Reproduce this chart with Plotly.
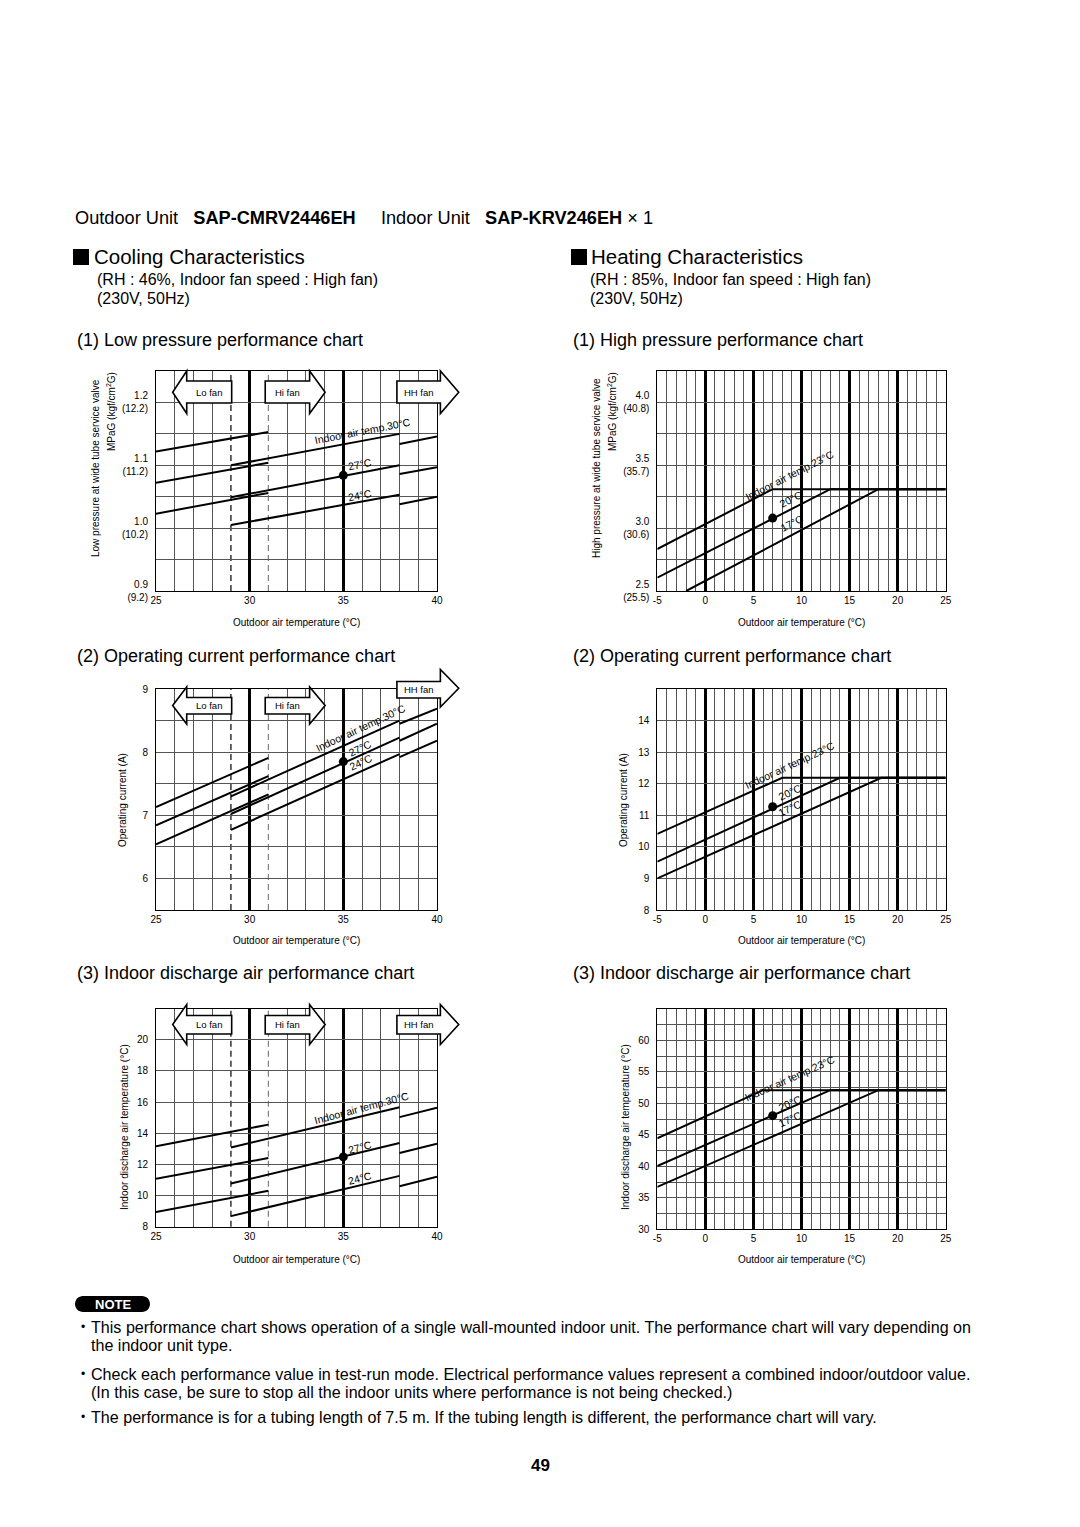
import plotly.graph_objects as go

W, H = 1080, 1527

# ---------------- data ----------------
# Cooling: x-segments (Lo fan / Hi fan / HH fan regions)
cool_x_lo = [25, 31]
cool_x_main = [29, 38]
cool_x_hh = [38, 40]

# (1) Cooling low pressure (MPaG)
lp30_lo = [1.122, 1.153]; lp30_main = [1.100, 1.150]; lp30_hh = [1.134, 1.146]
lp27_lo = [1.072, 1.104]; lp27_main = [1.049, 1.100]; lp27_hh = [1.086, 1.097]
lp24_lo = [1.023, 1.056]; lp24_main = [1.005, 1.053]; lp24_hh = [1.038, 1.050]
lp_point = [35, 1.084]

# (2) Cooling operating current (A)
cc30_lo = [7.13, 7.91]; cc30_main = [7.30, 8.50]; cc30_hh = [8.45, 8.69]
cc27_lo = [6.84, 7.62]; cc27_main = [7.02, 8.23]; cc27_hh = [8.18, 8.45]
cc24_lo = [6.54, 7.33]; cc24_main = [6.77, 7.97]; cc24_hh = [7.92, 8.18]
cc_point = [35, 7.85]

# (3) Cooling indoor discharge air temperature (°C)
cd30_lo = [13.16, 14.55]; cd30_main = [13.08, 15.67]; cd30_hh = [15.03, 15.63]
cd27_lo = [11.07, 12.41]; cd27_main = [10.77, 13.37]; cd27_hh = [12.73, 13.33]
cd24_lo = [8.94, 10.30]; cd24_main = [8.68, 11.26]; cd24_hh = [10.60, 11.20]
cd_point = [35, 12.48]

# Heating (1) high pressure (MPaG)
hp23_x = [-5, 7, 25]; hp23_y = [2.834, 3.31, 3.31]
hp20_x = [-5, 13, 25]; hp20_y = [2.606, 3.31, 3.31]
hp17_x = [-2, 18, 25]; hp17_y = [2.50, 3.31, 3.31]
hp_point = [7, 3.08]

# Heating (2) operating current (A)
hc23_x = [-5, 8, 25]; hc23_y = [10.41, 12.19, 12.19]
hc20_x = [-5, 14, 25]; hc20_y = [9.53, 12.19, 12.19]
hc17_x = [-5, 18.3, 25]; hc17_y = [9.00, 12.19, 12.19]
hc_point = [7, 11.27]

# Heating (3) indoor discharge air temperature (°C)
hd23_x = [-5, 6, 25]; hd23_y = [44.47, 52.1, 52.1]
hd20_x = [-5, 13, 25]; hd20_y = [40.05, 52.1, 52.1]
hd17_x = [-5, 18, 25]; hd17_y = [36.74, 52.1, 52.1]
hd_point = [7, 48.05]

# tick labels
cool_xticks = [25, 30, 35, 40]
cool_xminor = [26, 27, 28, 32, 33, 34, 36, 37, 38, 39]
cool_xdashed = [29, 31]
heat_xticks = [-5, 0, 5, 10, 15, 20, 25]
lp_tickvals = [0.9, 1.0, 1.1, 1.2]
lp_ticktext = ["0.9<br>(9.2)", "1.0<br>(10.2)", "1.1<br>(11.2)", "1.2<br>(12.2)"]
hp_tickvals = [2.5, 3.0, 3.5, 4.0]
hp_ticktext = ["2.5<br>(25.5)", "3.0<br>(30.6)", "3.5<br>(35.7)", "4.0<br>(40.8)"]
cc_tickvals = [6, 7, 8, 9]
hc_tickvals = [8, 9, 10, 11, 12, 13, 14]
cd_tickvals = [8, 10, 12, 14, 16, 18, 20]
hd_tickvals = [30, 35, 40, 45, 50, 55, 60]

# fan arrow extents along x (°C)
lo_fan_x = [25.89, 26.64, 29.04]   # tip, head base, body end
hi_fan_x = [30.83, 33.2, 34.03]    # body start, head base, tip
hh_fan_x = [37.86, 40.18, 41.16]

# ---------------- styling ----------------
SMALL = "Liberation Sans, Arial, Helvetica, sans-serif"
TEXT = "Liberation Sans, Arial, Helvetica, sans-serif"
THIN = "#555555"

fig = go.Figure()


def dom_x(l, r):
    return [l / W, r / W]


def dom_y(t, b):
    return [1 - b / H, 1 - t / H]


panel_defs = [
    # n, px left/right, py top/bottom, xrange, yrange, tickvals, ticktext, y minor dtick
    (1, (156, 437), (371, 591), [25, 40], [0.9, 1.25], lp_tickvals, lp_ticktext, 0.05),
    (2, (657.3, 945.7), (371, 591), [-5, 25], [2.5, 4.25], hp_tickvals, hp_ticktext, 0.25),
    (3, (156, 437), (689, 910), [25, 40], [5.5, 9], cc_tickvals, [str(v) for v in cc_tickvals], 0.5),
    (4, (657.3, 945.7), (689, 910), [-5, 25], [8, 15], hc_tickvals, [str(v) for v in hc_tickvals], 1),
    (5, (156, 437), (1008.5, 1226.7), [25, 40], [8, 22], cd_tickvals, [str(v) for v in cd_tickvals], 2),
    (6, (657.3, 945.7), (1009, 1229.3), [-5, 25], [30, 65], hd_tickvals, [str(v) for v in hd_tickvals], 2.5),
]

geo = {}
for n, (l, r), (t, b), xr, yr, tv, tt, mdt in panel_defs:
    sfx = "" if n == 1 else str(n)
    geo[n] = dict(l=l, r=r, t=t, b=b, xr=xr, yr=yr)
    cooling = xr[0] == 25
    if cooling:
        xminor = dict(tickmode="array", tickvals=cool_xminor, showgrid=True,
                      gridcolor=THIN, gridwidth=1, ticks="")
        xticks = cool_xticks
    else:
        xminor = dict(tick0=xr[0], dtick=1, showgrid=True, gridcolor=THIN, gridwidth=1, ticks="")
        xticks = heat_xticks
    fig.update_layout(**{
        "xaxis" + sfx: dict(
            domain=dom_x(l, r), range=xr, anchor="y" + sfx, automargin=False,
            tickmode="array", tickvals=xticks, ticktext=[str(v) for v in xticks],
            showgrid=True, gridcolor="black", gridwidth=2.5,
            minor=xminor,
            showline=True, mirror=True, linecolor="black", linewidth=1,
            ticks="", zeroline=False, fixedrange=True,
            tickfont=dict(family=SMALL, size=10, color="black"),
        ),
        "yaxis" + sfx: dict(
            domain=dom_y(t, b), range=yr, anchor="x" + sfx, automargin=False,
            tickmode="array", tickvals=tv, ticktext=tt,
            showgrid=True, gridcolor=THIN, gridwidth=1,
            minor=dict(tick0=yr[0], dtick=mdt, showgrid=True, gridcolor=THIN, gridwidth=1, ticks=""),
            showline=True, mirror=True, linecolor="black", linewidth=1,
            ticks="", zeroline=False, fixedrange=True,
            ticklabelstandoff=5,
            tickfont=dict(family=SMALL, size=10, color="black"),
        ),
    })


def segs(*pairs):
    X, Y = [], []
    for xs, ys in pairs:
        if X:
            X.append(None); Y.append(None)
        X += list(xs); Y += list(ys)
    return X, Y


def add_line(n, X, Y):
    sfx = "" if n == 1 else str(n)
    fig.add_trace(go.Scatter(x=X, y=Y, mode="lines", line=dict(color="black", width=2),
                             xaxis="x" + sfx, yaxis="y" + sfx, hoverinfo="skip"))


def add_point(n, p):
    sfx = "" if n == 1 else str(n)
    fig.add_trace(go.Scatter(x=[p[0]], y=[p[1]], mode="markers",
                             marker=dict(color="black", size=9),
                             xaxis="x" + sfx, yaxis="y" + sfx, hoverinfo="skip"))


# cooling series
for n, series, pt in [
    (1, [(lp30_lo, lp30_main, lp30_hh), (lp27_lo, lp27_main, lp27_hh), (lp24_lo, lp24_main, lp24_hh)], lp_point),
    (3, [(cc30_lo, cc30_main, cc30_hh), (cc27_lo, cc27_main, cc27_hh), (cc24_lo, cc24_main, cc24_hh)], cc_point),
    (5, [(cd30_lo, cd30_main, cd30_hh), (cd27_lo, cd27_main, cd27_hh), (cd24_lo, cd24_main, cd24_hh)], cd_point),
]:
    for lo, main, hh in series:
        X, Y = segs((cool_x_lo, lo), (cool_x_main, main), (cool_x_hh, hh))
        add_line(n, X, Y)
    add_point(n, pt)

# heating series
for n, series, pt in [
    (2, [(hp23_x, hp23_y), (hp20_x, hp20_y), (hp17_x, hp17_y)], hp_point),
    (4, [(hc23_x, hc23_y), (hc20_x, hc20_y), (hc17_x, hc17_y)], hc_point),
    (6, [(hd23_x, hd23_y), (hd20_x, hd20_y), (hd17_x, hd17_y)], hd_point),
]:
    for xs, ys in series:
        add_line(n, xs, ys)
    add_point(n, pt)

shapes = []
annots = []

# dashed boundaries at 29 and 31 for cooling charts
for n in (1, 3, 5):
    sfx = "" if n == 1 else str(n)
    for xv, col in zip(cool_xdashed, ("black", "#808080")):
        shapes.append(dict(type="line", xref="x" + sfx, yref="y" + sfx + " domain",
                           x0=xv, x1=xv, y0=0, y1=1, layer="below",
                           line=dict(color=col, width=1.2, dash="6px,4px")))


def fan_arrow(n, direction, xs, body, head, label):
    g = geo[n]
    sfx = "" if n == 1 else str(n)
    hpx = g["b"] - g["t"]
    fx = lambda v: (v - g["xr"][0]) / (g["xr"][1] - g["xr"][0])
    fy = lambda off: 1 - off / hpx
    bt, bb = fy(body[0]), fy(body[1])
    ht, hb = fy(head[0]), fy(head[1])
    ym = (ht + hb) / 2
    if direction == "left":
        tip, hbase, bend = [fx(v) for v in xs]
        pts = [(bend, bt), (hbase, bt), (hbase, ht), (tip, ym), (hbase, hb), (hbase, bb), (bend, bb)]
        cx = (hbase + bend) / 2
    else:
        bstart, hbase, tip = [fx(v) for v in xs]
        pts = [(bstart, bt), (hbase, bt), (hbase, ht), (tip, ym), (hbase, hb), (hbase, bb), (bstart, bb)]
        cx = (bstart + hbase) / 2
    path = "M " + " L ".join(f"{a:.5f},{b:.5f}" for a, b in pts) + " Z"
    shapes.append(dict(type="path", path=path, xref="x" + sfx + " domain", yref="y" + sfx + " domain",
                       fillcolor="white", line=dict(color="black", width=1.6), layer="above"))
    annots.append(dict(text=label, xref="x" + sfx + " domain", yref="y" + sfx + " domain",
                       x=cx, y=(bt + bb) / 2, xanchor="center", yanchor="middle", showarrow=False,
                       font=dict(family=SMALL, size=9.5, color="black")))


# offsets in px from plot top: body (top,bottom), head (top,bottom)
fan_arrow(1, "left", lo_fan_x, (10, 32), (0, 42.5), "Lo fan")
fan_arrow(1, "right", hi_fan_x, (10, 32), (0, 42.5), "Hi fan")
fan_arrow(1, "right", hh_fan_x, (10, 32), (0, 42.5), "HH fan")
fan_arrow(3, "left", lo_fan_x, (8.5, 25), (-2, 35), "Lo fan")
fan_arrow(3, "right", hi_fan_x, (8.5, 25), (-2, 35), "Hi fan")
fan_arrow(3, "right", hh_fan_x, (-7.5, 9), (-19.5, 18), "HH fan")
fan_arrow(5, "left", lo_fan_x, (7, 25.5), (-4, 36), "Lo fan")
fan_arrow(5, "right", hi_fan_x, (7, 25.5), (-4, 36), "Hi fan")
fan_arrow(5, "right", hh_fan_x, (7, 25.5), (-4, 36), "HH fan")


def curve_label(n, x, y, text, angle):
    sfx = "" if n == 1 else str(n)
    annots.append(dict(text=text, xref="x" + sfx, yref="y" + sfx, x=x, y=y, showarrow=False,
                       xanchor="center", yanchor="middle",
                       textangle=angle, font=dict(family=SMALL, size=10.5, color="black")))


curve_label(1, 36.0, 1.154, "Indoor air temp.30°C", -11)
curve_label(1, 35.9, 1.102, "27°C", -11)
curve_label(1, 35.9, 1.052, "24°C", -11)
curve_label(3, 35.9, 8.38, "Indoor air temp.30°C", -25)
curve_label(3, 35.9, 8.07, "27°C", -25)
curve_label(3, 35.95, 7.84, "24°C", -25)
curve_label(5, 35.95, 15.6, "Indoor air temp.30°C", -15)
curve_label(5, 35.9, 13.1, "27°C", -15)
curve_label(5, 35.9, 11.1, "24°C", -15)
curve_label(2, 8.8, 3.42, "Indoor air temp.23°C", -27)
curve_label(2, 8.9, 3.23, "20°C", -27)
curve_label(2, 9.0, 3.04, "17°C", -27)
curve_label(4, 8.8, 12.59, "Indoor air temp.23°C", -25)
curve_label(4, 8.8, 11.74, "20°C", -25)
curve_label(4, 8.8, 11.23, "17°C", -25)
curve_label(6, 8.8, 54.05, "Indoor air temp.23°C", -24)
curve_label(6, 8.8, 50.1, "20°C", -24)
curve_label(6, 8.8, 47.6, "17°C", -24)


def ptext(x, y, text, size, family=TEXT, xanchor="left", angle=0, color="black"):
    annots.append(dict(text=text, xref="paper", yref="paper", x=x / W, y=1 - y / H,
                       xanchor=xanchor, yanchor="middle", showarrow=False, textangle=angle,
                       font=dict(family=family, size=size, color=color)))


# axis titles
for cx in (296.5, 801.5):
    for cy in (622, 940, 1259):
        ptext(cx, cy, "Outdoor air temperature (°C)", 10, SMALL, "center")
ptext(95, 468, "Low pressure at wide tube service valve", 10, SMALL, "center", -90)
ptext(111, 412, "MPaG (kgf/cm<sup>2</sup>G)", 10, SMALL, "center", -90)
ptext(596, 468, "High pressure at wide tube service valve", 10, SMALL, "center", -90)
ptext(612, 412, "MPaG (kgf/cm<sup>2</sup>G)", 10, SMALL, "center", -90)
ptext(122, 800, "Operating current (A)", 10, SMALL, "center", -90)
ptext(623, 800, "Operating current (A)", 10, SMALL, "center", -90)
ptext(124, 1127, "Indoor discharge air temperature (°C)", 10, SMALL, "center", -90)
ptext(625, 1127, "Indoor discharge air temperature (°C)", 10, SMALL, "center", -90)

# header texts
NB = "\u00a0"
ptext(73, 218, "Outdoor Unit" + NB * 3 + "<b>SAP-CMRV2446EH</b>" + NB * 5 + "Indoor Unit" + NB * 3
      + "<b>SAP-KRV246EH</b> × 1", 18.2)
for sq_x, tx, rhx, title, rh in ((73, 92, 95, "Cooling Characteristics", "46%"),
                                 (571, 589, 588, "Heating Characteristics", "85%")):
    shapes.append(dict(type="rect", xref="paper", yref="paper", x0=sq_x / W, x1=(sq_x + 16) / W,
                       y0=1 - 265 / H, y1=1 - 249 / H, fillcolor="black", line=dict(width=0)))
    ptext(tx, 257, title, 20.5)
    ptext(rhx, 279, f"(RH : {rh}, Indoor fan speed : High fan)", 16)
    ptext(rhx, 298, "(230V, 50Hz)", 16)

ptext(75, 340, "(1) Low pressure performance chart", 18)
ptext(571, 340, "(1) High pressure performance chart", 18)
ptext(75, 656, "(2) Operating current performance chart", 18)
ptext(571, 656, "(2) Operating current performance chart", 18)
ptext(75, 973, "(3) Indoor discharge air performance chart", 18)
ptext(571, 973, "(3) Indoor discharge air performance chart", 18)


# NOTE badge
def P(x, y):
    return f"{x / W:.5f},{1 - y / H:.5f}"


bx0, bx1, by0, by1 = 75, 150, 1296, 1312
r = (by1 - by0) / 2
k = 0.55
badge = (f"M {P(bx0 + r, by0)} L {P(bx1 - r, by0)} "
         f"C {P(bx1 - r + k * r, by0)} {P(bx1, by0 + r - k * r)} {P(bx1, by0 + r)} "
         f"C {P(bx1, by0 + r + k * r)} {P(bx1 - r + k * r, by1)} {P(bx1 - r, by1)} "
         f"L {P(bx0 + r, by1)} "
         f"C {P(bx0 + r - k * r, by1)} {P(bx0, by0 + r + k * r)} {P(bx0, by0 + r)} "
         f"C {P(bx0, by0 + r - k * r)} {P(bx0 + r - k * r, by0)} {P(bx0 + r, by0)} Z")
shapes.append(dict(type="path", path=badge, xref="paper", yref="paper",
                   fillcolor="black", line=dict(width=0)))
ptext(112.5, 1304.5, "<b>NOTE</b>", 13, TEXT, "center", color="white")

notes = [
    (1327, True, "This performance chart shows operation of a single wall-mounted indoor unit. The performance chart will vary depending on"),
    (1345, False, "the indoor unit type."),
    (1374, True, "Check each performance value in test-run mode. Electrical performance values represent a combined indoor/outdoor value."),
    (1392, False, "(In this case, be sure to stop all the indoor units where performance is not being checked.)"),
    (1417, True, "The performance is for a tubing length of 7.5 m. If the tubing length is different, the performance chart will vary."),
]
for y, bullet, txt in notes:
    if bullet:
        ptext(79, y, "•", 12)
    ptext(89, y, txt, 16.1)

ptext(540, 1465, "<b>49</b>", 17, TEXT, "center")

fig.update_layout(
    width=W, height=H, margin=dict(l=0, r=0, t=0, b=0, autoexpand=False),
    paper_bgcolor="white", plot_bgcolor="white", showlegend=False,
    shapes=shapes, annotations=annots,
)

fig.write_html("out.html", config={"displayModeBar": False})
